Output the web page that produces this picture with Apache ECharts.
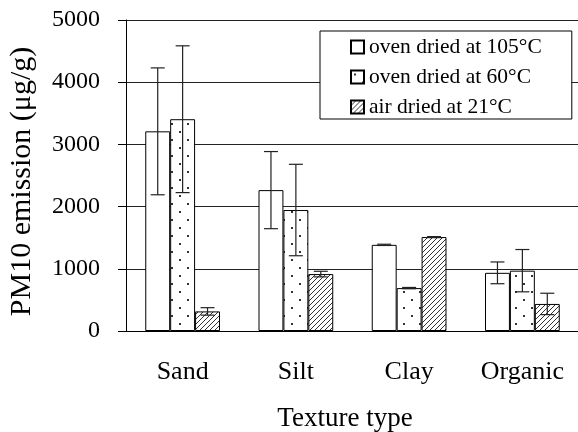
<!DOCTYPE html>
<html>
<head>
<meta charset="utf-8">
<script src="https://cdn.jsdelivr.net/npm/echarts@6/dist/echarts.min.js"></script>
<style>html,body{margin:0;padding:0;background:#fff;}#c{width:578px;height:432px;}</style>
</head>
<body>
<div id="c"></div>
<script>
const categories = ['Sand', 'Silt', 'Clay', 'Organic'];
const seriesNames = ['oven dried at 105°C', 'oven dried at 60°C', 'air dried at 21°C'];
const oven105 = [3210, 2265, 1385, 935];
const oven60 = [3405, 1945, 690, 970];
const air21 = [315, 915, 1510, 435];
const err105 = [1020, 620, 10, 175];
const err60 = [1180, 735, 10, 340];
const err21 = [60, 45, 8, 172];
const yTicks = [0, 1000, 2000, 3000, 4000, 5000];

const FONT = '"Liberation Serif", "Times New Roman", serif';
const GAP = 0.34;

function dotPattern() {
  const c = document.createElement('canvas');
  c.width = 16; c.height = 16;
  const g = c.getContext('2d');
  g.fillStyle = '#fff'; g.fillRect(0, 0, 16, 16);
  g.fillStyle = '#333';
  g.fillRect(3, 3, 2, 2);
  g.fillRect(11, 11, 2, 2);
  return c;
}
function hatchPattern() {
  const s = 5;
  const c = document.createElement('canvas');
  c.width = s; c.height = s;
  const g = c.getContext('2d');
  g.fillStyle = '#fff'; g.fillRect(0, 0, s, s);
  g.strokeStyle = '#333'; g.lineWidth = 1;
  g.beginPath();
  g.moveTo(0, s); g.lineTo(s, 0);
  g.moveTo(-1, 1); g.lineTo(1, -1);
  g.moveTo(s - 1, s + 1); g.lineTo(s + 1, s - 1);
  g.stroke();
  return c;
}

const vals = [oven105, oven60, air21];
const errs = [err105, err60, err21];
const fills = ['#fff', {image: dotPattern(), repeat: 'repeat'}, {image: hatchPattern(), repeat: 'repeat'}];

const errData = [];
for (let k = 0; k < 3; k++) {
  for (let i = 0; i < categories.length; i++) {
    errData.push([i, vals[k][i] - errs[k][i], vals[k][i] + errs[k][i], k]);
  }
}

function renderErr(params, api) {
  const cat = api.value(0), lo = api.value(1), hi = api.value(2), k = api.value(3);
  const band = api.size([1, 0])[0];
  const bw = band * (1 - GAP) / 3;
  const x = api.coord([cat, 0])[0] + (k - 1) * bw;
  const yT = api.coord([cat, hi])[1];
  const yB = api.coord([cat, lo])[1];
  const h = 7;
  const st = {stroke: '#222', lineWidth: 1.2};
  return {
    type: 'group',
    children: [
      {type: 'line', shape: {x1: x, y1: yT, x2: x, y2: yB}, style: st},
      {type: 'line', shape: {x1: x - h, y1: yT, x2: x + h, y2: yT}, style: st},
      {type: 'line', shape: {x1: x - h, y1: yB, x2: x + h, y2: yB}, style: st}
    ]
  };
}

const series = seriesNames.map((n, k) => ({
  name: n,
  type: 'bar',
  data: vals[k],
  barGap: '0%',
  barCategoryGap: (GAP * 100) + '%',
  itemStyle: {color: fills[k], borderColor: '#000', borderWidth: 1},
  z: 2
}));
series.push({
  type: 'custom',
  renderItem: renderErr,
  data: errData,
  encode: {x: 0, y: [1, 2]},
  z: 5,
  silent: true
});

const chart = echarts.init(document.getElementById('c'), null, {renderer: 'canvas'});
chart.setOption({
  animation: false,
  backgroundColor: '#fff',
  textStyle: {fontFamily: FONT, color: '#000'},
  grid: {left: 126, top: 20, width: 453, height: 311, containLabel: false, outerBoundsMode: 'none'},
  legend: {
    data: seriesNames,
    orient: 'vertical',
    left: 320,
    top: 31,
    padding: [5, 30, 1, 30],
    itemGap: 8,
    itemWidth: 13,
    itemHeight: 13,
    icon: 'rect',
    backgroundColor: '#fff',
    borderColor: '#000',
    borderWidth: 1,
    textStyle: {fontFamily: FONT, fontSize: 21.5, color: '#000'},
    z: 10
  },
  xAxis: {
    type: 'category',
    data: categories,
    name: 'Texture type',
    nameLocation: 'middle',
    nameGap: 74,
    nameTextStyle: {fontFamily: FONT, fontSize: 27, color: '#000', padding: [0, 15, 0, 0]},
    axisLine: {lineStyle: {color: '#000', width: 1}},
    axisTick: {length: 8, lineStyle: {color: '#000'}},
    axisLabel: {fontFamily: FONT, fontSize: 26, color: '#000', margin: 28}
  },
  yAxis: {
    type: 'value',
    min: yTicks[0],
    max: yTicks[yTicks.length - 1],
    interval: 1000,
    name: 'PM10 emission (μg/g)',
    nameLocation: 'middle',
    nameGap: 89,
    nameRotate: 90,
    nameTextStyle: {fontFamily: FONT, fontSize: 30, color: '#000', padding: [0, 12, 0, 0]},
    axisLine: {show: true, lineStyle: {color: '#000', width: 1}},
    axisTick: {show: true, length: 8, lineStyle: {color: '#000'}},
    axisLabel: {fontFamily: FONT, fontSize: 24, color: '#000', margin: 26, formatter: v => String(v)},
    splitLine: {show: true, lineStyle: {color: '#222', width: 1}}
  },
  series: series
});
</script>
</body>
</html>
